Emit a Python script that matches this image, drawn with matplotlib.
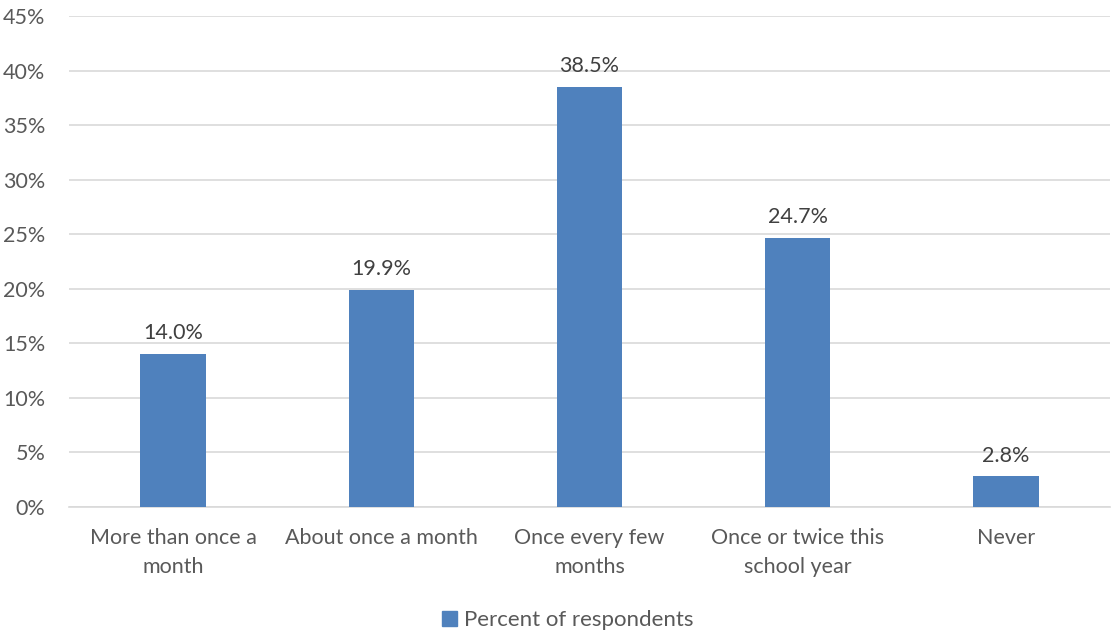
import matplotlib.pyplot as plt
from matplotlib.patches import Patch
from matplotlib.ticker import MultipleLocator, FuncFormatter

categories = ['More than once a\nmonth', 'About once a month', 'Once every few\nmonths',
              'Once or twice this\nschool year', 'Never']
percent = [14.0, 19.9, 38.5, 24.7, 2.8]

bar_color = '#4F81BD'
text_color = '#595959'

plt.rcParams['font.family'] = ['Lato', 'DejaVu Sans']

fig = plt.figure(figsize=(11.11, 6.31), dpi=100)
ax = fig.add_axes([0.0621, 0.1965, 0.937, 0.778])

x = range(len(categories))
bars = ax.bar(x, percent, width=0.315, color=bar_color, zorder=3)

for b, v in zip(bars, percent):
    ax.text(b.get_x() + b.get_width() / 2, v + 1.0, f'{v:.1f}%', ha='center', va='bottom',
            fontsize=15.5, color='#404040')

ax.set_xlim(-0.5, len(categories) - 0.5)
ax.set_ylim(0, 45)
ax.yaxis.set_major_locator(MultipleLocator(5))
ax.yaxis.set_major_formatter(FuncFormatter(lambda v, p: f'{v:.0f}%'))
ax.set_xticks(list(x))
ax.set_xticklabels(categories, fontsize=15.5, color=text_color, linespacing=1.55)
ax.tick_params(axis='y', labelsize=15.5, labelcolor=text_color, length=0, pad=17)
ax.tick_params(axis='x', length=0, pad=15)
ax.grid(axis='y', color='#D9D9D9', linewidth=1.2, zorder=0)
for s in ['top', 'right', 'left']:
    ax.spines[s].set_visible(False)
ax.spines['bottom'].set_color('#D9D9D9')
ax.spines['bottom'].set_linewidth(1.2)

fig.legend(handles=[Patch(color=bar_color, label='Percent of respondents')],
           loc='center', bbox_to_anchor=(0.511, 0.017), frameon=False, fontsize=16,
           handlelength=0.65, handleheight=0.65, handletextpad=0.3, labelcolor=text_color)

fig.savefig('out.png', dpi=100)
